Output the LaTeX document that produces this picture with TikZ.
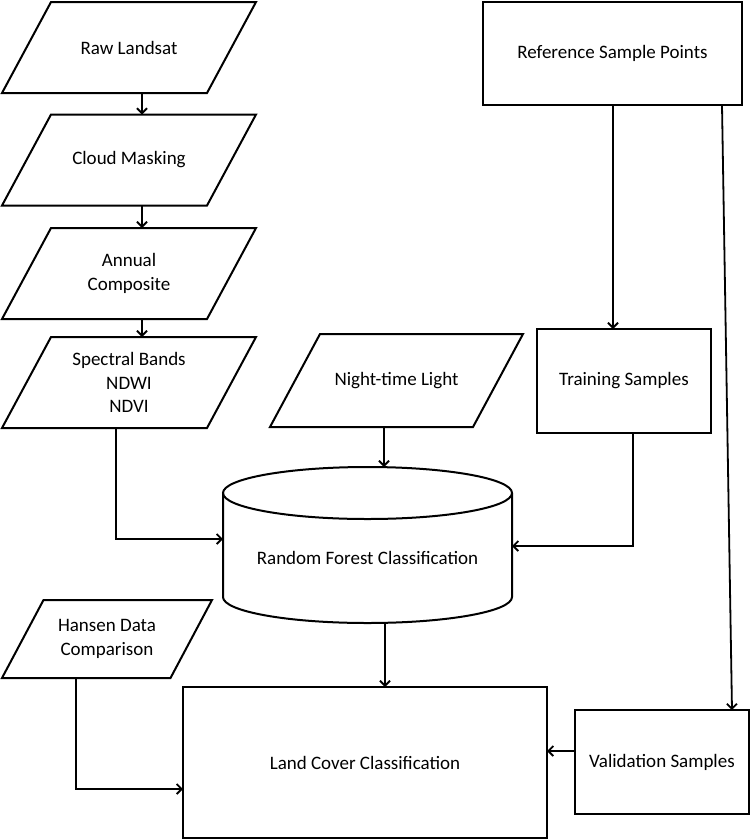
\documentclass[tikz,border=0pt]{standalone}
\usepackage{fontspec}
\setmainfont{Carlito}
\usetikzlibrary{positioning,arrows.meta,calc}
\tikzset{
  every node/.style={font=\fontsize{19}{23.5}\selectfont},
  % --- nodes
  box/.style  = {rectangle, draw, line width=2pt, align=center,
                 inner sep=0pt, outer sep=0pt},
  para/.style = {rectangle, align=center, inner sep=0pt, outer sep=0pt,
                 minimum width=205pt, minimum height=91pt},
  % --- edges
  ln/.style   = {line width=2pt, line join=miter},
  e/.style    = {line width=1.8pt, -{Straight Barb[length=5pt,width=10pt]}},
}
\begin{document}
\begin{tikzpicture}[x=1pt,y=-1pt]
  \useasboundingbox (0,0) rectangle (750,839);

  % image chain
  \node[para] (raw)    at (129,47.5)  {Raw Landsat};
  \node[para] (cloud)  at (129,160)   {Cloud Masking};
  \node[para] (annual) at (129,273.5) {Annual\\Composite};
  \node[para] (bands)  at (129,382.5) {Spectral Bands\\NDWI\\NDVI};
  \node[para, minimum width=203pt, minimum height=93pt] (night) at (396.5,380.5) {Night-time Light};
  \node[para, minimum width=168.5pt, minimum height=78pt] (hansen) at (107,639) {Hansen Data\\Comparison};
  \foreach \n/\s in {raw/24.5,cloud/24.5,annual/24.5,bands/24.5,night/25,hansen/20.75}
    \draw[ln] ([xshift=\s pt]\n.north west) -- ([xshift=\s pt]\n.north east)
      -- ([xshift=-\s pt]\n.south east) -- ([xshift=-\s pt]\n.south west) -- cycle;

  % samples
  \node[box, minimum width=259pt, minimum height=103pt] (ref)   at (612.5,53.5) {Reference Sample Points};
  \node[box, minimum width=174pt, minimum height=104pt] (train) at (624,381)    {Training Samples};
  \node[box, minimum width=174pt, minimum height=104pt] (valid) at (662,762)    {Validation Samples};
  \node[box, minimum width=364pt, minimum height=151pt] (lcc)   at (365,762.5)  {Land Cover Classification};

  % classifier drum
  \node[minimum width=289pt, minimum height=156pt, inner sep=0pt, outer sep=0pt,
        label={[yshift=-13pt]center:Random Forest Classification}] (rf) at (367.5,545) {};
  \draw[ln] ([yshift=-26pt]rf.north west) -- ([yshift=26pt]rf.south west)
    arc[start angle=180, end angle=360, x radius=144.5pt, y radius=26pt]
    -- ([yshift=-26pt]rf.north east);
  \draw[ln] ([yshift=-26pt]rf.north) ellipse [x radius=144.5pt, y radius=26pt];

  % connector columns
  \coordinate (cx) at (142,0);
  \coordinate (bx) at (116,539);
  \coordinate (nx) at (384,0);
  \coordinate (tx) at (613,0);
  \coordinate (ty) at (633,546);
  \coordinate (v1) at (722,0);
  \coordinate (v2) at (732,0);
  \coordinate (lx) at (385,0);
  \coordinate (hy) at (76,789);
  \coordinate (vy) at (0,751);

  \draw[e] (raw.south -| cx) -- (cloud.north -| cx);
  \draw[e] (cloud.south -| cx) -- (annual.north -| cx);
  \draw[e] (annual.south -| cx) -- (bands.north -| cx);
  \draw[e] (bands.south -| bx) |- (rf.west |- bx);
  \draw[e] (night.south -| nx) -- (rf.north -| nx);
  \draw[e] (ref.south -| tx) -- (train.north -| tx);
  \draw[e] (train.south -| ty) |- (rf.east |- ty);
  \draw[e] (ref.south -| v1) -- (valid.north -| v2);
  \draw[e] (rf.south -| lx) -- (lcc.north -| lx);
  \draw[e] (hansen.south -| hy) |- (lcc.west |- hy);
  \draw[e] (valid.west |- vy) -- (lcc.east |- vy);
\end{tikzpicture}
\end{document}
